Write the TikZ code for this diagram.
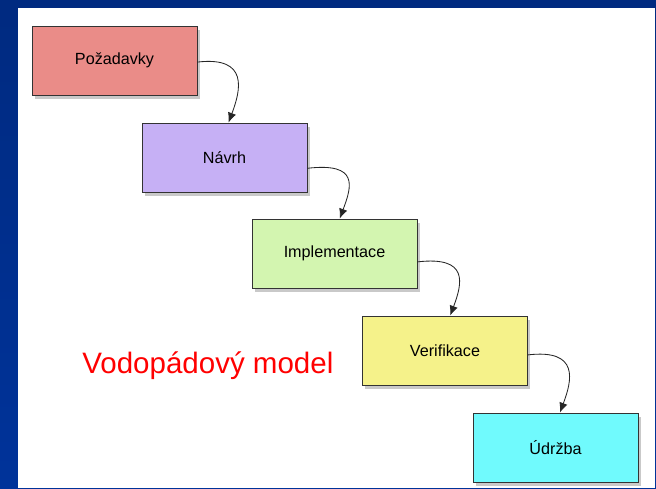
\documentclass[tikz,border=0pt]{standalone}
\usepackage{fontspec}
\setmainfont{Liberation Sans}
\usetikzlibrary{arrows.meta,shadows}

\begin{document}
\begin{tikzpicture}[x=1cm,y=1cm,
  phase/.style={draw=black!80,line width=0.6pt,minimum width=4.125cm,minimum height=1.725cm,
    inner sep=0pt,font=\fontsize{11.5}{13}\selectfont,
    drop shadow={shadow xshift=2pt,shadow yshift=-3pt,opacity=0.35,fill=black!60}},
  flow/.style={draw=black!85,line width=0.6pt,-{Latex[length=7pt,width=6pt]}}]
\definecolor{deck}{HTML}{00339A}
\definecolor{decktop}{HTML}{002A80}
\definecolor{req}{HTML}{EA8C88}
\definecolor{dsg}{HTML}{C6B0F5}
\definecolor{impl}{HTML}{D3F5B0}
\definecolor{ver}{HTML}{F5F28A}
\definecolor{mnt}{HTML}{70FAFD}
\shade[top color=decktop,bottom color=deck] (0.000,0.000) rectangle (16.400,12.200);
\fill[white] (0.450,0.000) rectangle (16.375,12.000);
\node[phase,fill=req] (req) at (2.863,10.688) {Požadavky};
\node[phase,fill=dsg] (dsg) at (5.613,8.263) {Návrh};
\node[phase,fill=impl] (impl) at (8.363,5.863) {Implementace};
\node[phase,fill=ver] (ver) at (11.125,3.438) {Verifikace};
\node[phase,fill=mnt] (mnt) at (13.888,1.013) {Údržba};
\draw[flow] ([yshift=-0.04cm]req.east) .. controls +(1.3,0.15) and +(0.3,0.8) .. ([xshift=0.1cm]dsg.north);
\draw[flow] ([yshift=-0.27cm]dsg.east) .. controls +(1.3,0.15) and +(0.3,0.8) .. ([xshift=0.13cm]impl.north);
\draw[flow] ([yshift=-0.21cm]impl.east) .. controls +(1.3,0.15) and +(0.3,0.8) .. ([xshift=0.13cm]ver.north);
\draw[flow] ([yshift=-0.11cm]ver.east) .. controls +(1.3,0.15) and +(0.3,0.8) .. ([xshift=0.11cm]mnt.north);
\node[anchor=base west,inner sep=0pt,text=red,font=\fontsize{21}{25}\selectfont] (title) at (2.050,2.875) {Vodopádový model};
\end{tikzpicture}
\end{document}
